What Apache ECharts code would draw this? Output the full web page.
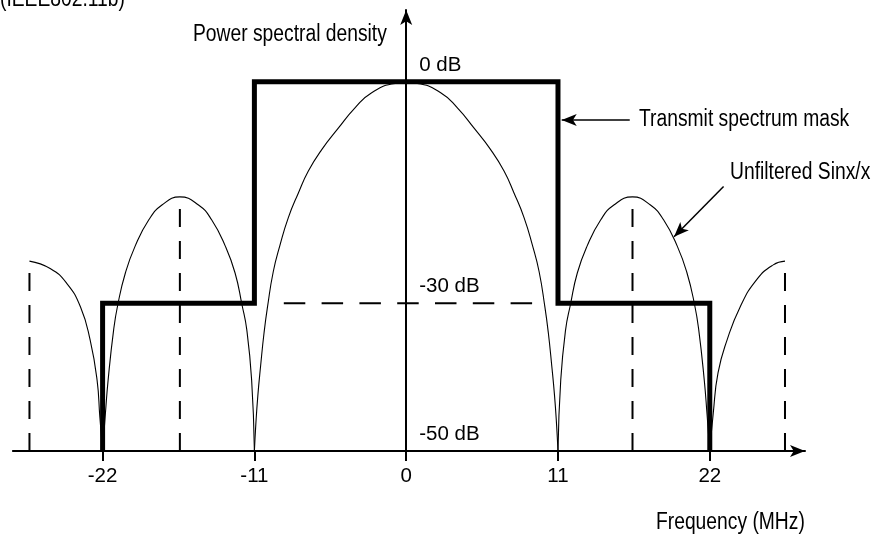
<!DOCTYPE html>
<html>
<head>
<meta charset="utf-8">
<title>Transmit spectrum mask</title>
<script src="https://cdn.jsdelivr.net/npm/echarts@6/dist/echarts.min.js"></script>
<style>
  html, body { margin: 0; padding: 0; background: #fff; }
  #chart { width: 889px; height: 540px; }
</style>
</head>
<body>
<div id="chart"></div>
<script>
// frequency (MHz) / level (dB)
const freqTicks = [-22, -11, 0, 11, 22]
const levelTicks = [0, -30, -50]

const maskLevels = [
  [-22, -50], [-22, -30], [-11, -30], [-11, 0],
  [11, 0], [11, -30], [22, -30], [22, -50]
]

const outerLobeLeft = [
  [-27.3, -24.3], [-25.8, -25.3], [-24.6, -27.3], [-23.6, -30.5],
  [-22.9, -35], [-22.4, -40.4], [-22.2, -45.4], [-22, -50]
]
const sideLobeLeft = [
  [-22, -50], [-21.8, -45], [-21.6, -40.4], [-21.2, -33.6], [-20.9, -30.2],
  [-20.35, -25.9], [-19.65, -22.3], [-18.65, -18.7], [-17.7, -16.7], [-16.4, -15.6],
  [-15.05, -16.7], [-14.1, -18.7], [-13.1, -22.3], [-12.4, -25.9], [-11.9, -30.2],
  [-11.55, -33.6], [-11.2, -40.4], [-11, -50]
]
const mainLobe = [
  [-11, -50], [-10.9, -46.5], [-10.75, -42.5], [-10.55, -38.5], [-10.3, -34],
  [-10.05, -30.5], [-9.63, -25.7], [-9.14, -22.1], [-8.54, -18.4], [-7.82, -15.1],
  [-7.09, -12.1], [-6.12, -9.2], [-4.92, -6.3], [-3.71, -3.55], [-2.5, -1.5],
  [-0.8, -0.25], [0, -0.15], [0.8, -0.25],
  [2.5, -1.5], [3.71, -3.55], [4.92, -6.3], [6.12, -9.2], [7.09, -12.1],
  [7.82, -15.1], [8.54, -18.4], [9.14, -22.1], [9.63, -25.7], [10.05, -30.5],
  [10.3, -34], [10.55, -38.5], [10.75, -42.5], [10.9, -46.5], [11, -50]
]
const sideLobeRight = [
  [11, -50], [11.2, -40.4], [11.55, -33.6], [11.9, -30.2], [12.4, -25.9],
  [13.1, -22.3], [14.1, -18.7], [15.05, -16.7], [16.4, -15.6], [17.7, -16.7],
  [18.65, -18.7], [19.65, -22.3], [20.35, -25.9], [20.9, -30.2], [21.2, -33.6],
  [21.6, -40.4], [21.8, -45], [22, -50]
]
const outerLobeRight = [
  [22, -50], [22.25, -44.9], [22.6, -39.4], [23.25, -35], [24.2, -30.5],
  [25.4, -26.8], [26.6, -24.8], [27.45, -24.3]
]

const lobePeaks = [[-27.3, -24.3], [-16.4, -15.6], [16.4, -15.6], [27.45, -24.3]]
// -30 dB guide runs between the main lobe crossings
const level30Span = [[-10.05, -30], [10.05, -30]]

// annotation arrows: [tail, tip]
const maskArrow = [[16.2, -5.2], [11.27, -5.2]]
const sincArrow = [[23.0, -14.2], [19.41, -21.0]]

const FONT = "'Liberation Sans', Arial, sans-serif"
const NOTE_SIZE = 23.5
const TICK_SIZE = 20.5

const chart = echarts.init(document.getElementById('chart'), null, { renderer: 'canvas' })

function lobeSeries(data) {
  return {
    type: 'line',
    data: data,
    smooth: 0.5,
    symbol: 'none',
    lineStyle: { color: '#000', width: 1.1 },
    silent: true,
    z: 3
  }
}

function dashedSeries(data) {
  return {
    type: 'line',
    data: data,
    symbol: 'none',
    lineStyle: { color: '#000', width: 2, type: [18, 14] },
    silent: true,
    z: 2
  }
}

function arrowLine(pts) {
  return {
    silent: true,
    symbol: ['none', 'arrow'],
    symbolSize: [9, 15],
    label: { show: false },
    lineStyle: { color: '#000', width: 1.5, type: 'solid' },
    data: [[{ coord: pts[0] }, { coord: pts[1] }]]
  }
}

// narrow lettering like the original: scale the text horizontally
function text(str, x, y) {
  return {
    type: 'text',
    x: x,
    y: y,
    scaleX: 0.82,
    style: {
      text: str,
      fill: '#000',
      font: NOTE_SIZE + 'px ' + FONT,
      textAlign: 'left',
      textVerticalAlign: 'middle'
    }
  }
}

const series = []
series.push(lobeSeries(outerLobeLeft))
series.push(lobeSeries(sideLobeLeft))
series.push(lobeSeries(mainLobe))
const rightSide = lobeSeries(sideLobeRight)
rightSide.markLine = arrowLine(sincArrow)
series.push(rightSide)
series.push(lobeSeries(outerLobeRight))

lobePeaks.forEach(function (p) {
  series.push(dashedSeries([[p[0], -50], p]))
})
const level30 = dashedSeries(level30Span)
level30.lineStyle.type = [21.5, 16.3]
level30.lineStyle.dashOffset = 21.5
series.push(level30)

series.push({
  type: 'line',
  data: maskLevels,
  symbol: 'none',
  lineStyle: { color: '#000', width: 5, join: 'miter', cap: 'butt' },
  silent: true,
  z: 4,
  markLine: arrowLine(maskArrow)
})

chart.setOption({
  animation: false,
  backgroundColor: '#fff',
  grid: { left: 12.9, right: 84, top: 10, bottom: 89 },
  xAxis: {
    type: 'value',
    min: -28.5,
    max: 28.9,
    axisLine: {
      onZero: false,
      symbol: ['none', 'arrow'],
      symbolSize: [9, 15],
      lineStyle: { color: '#000', width: 2 }
    },
    axisTick: {
      customValues: freqTicks,
      length: 10,
      lineStyle: { color: '#000', width: 2 }
    },
    axisLabel: {
      customValues: freqTicks,
      margin: 15,
      color: '#000',
      fontFamily: FONT,
      fontSize: TICK_SIZE
    },
    splitLine: { show: false }
  },
  yAxis: {
    type: 'value',
    min: -50,
    max: 9.7,
    offset: -393.3,
    axisLine: {
      onZero: false,
      symbol: ['none', 'arrow'],
      symbolSize: [9, 15],
      lineStyle: { color: '#000', width: 2 }
    },
    axisTick: { show: false },
    axisLabel: {
      customValues: levelTicks,
      inside: true,
      margin: 13,
      verticalAlign: 'bottom',
      padding: [0, 0, 6, 0],
      formatter: '{value} dB',
      color: '#000',
      fontFamily: FONT,
      fontSize: TICK_SIZE
    },
    splitLine: { show: false }
  },
  graphic: [
    text('(IEEE802.11b)', 0, 0),
    text('Power spectral density', 193, 35),
    text('Transmit spectrum mask', 639, 120),
    text('Unfiltered Sinx/x', 730, 173),
    text('Frequency (MHz)', 656, 523)
  ],
  series: series
})
</script>
</body>
</html>
